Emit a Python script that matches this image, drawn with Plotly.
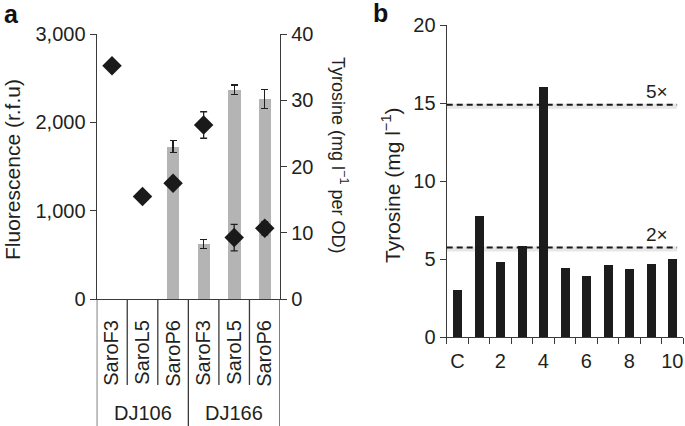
import plotly.graph_objects as go

# ---------------- data ----------------
# Panel a
strains = ["SaroF3", "SaroL5", "SaroP6", "SaroF3", "SaroL5", "SaroP6"]
groups = ["DJ106", "DJ166"]
group_centers = [1, 4]
fluorescence = [2640, 1160, 1310, 1970, 695, 800]
fluorescence_err = [0, 0, 0, 150, 150, 75]
tyrosine_od = [None, None, 23.0, 8.3, 31.6, 30.2]
tyrosine_od_err = [None, None, 0.9, 0.7, 0.7, 1.4]

# Panel b
clones = ["C", "1", "2", "3", "4", "5", "6", "7", "8", "9", "10"]
clone_ticktext = ["C", "", "2", "", "4", "", "6", "", "8", "", "10"]
tyrosine_b = [3.0, 7.8, 4.82, 5.85, 16.0, 4.46, 3.9, 4.61, 4.37, 4.67, 5.01]
fold_levels = [14.9, 5.75]
fold_labels = ["5×", "2×"]

# ---------------- style ----------------
W, H = 685, 426
FONT = "Liberation Sans, Arial, Helvetica, sans-serif"
TXT = "#231f20"
AX = "#3a3a3a"
FS = 20

def py(px):  # pixel row -> paper y
    return (H - px) / H

def px_(x):
    return x / W

a_dom_x = [px_(96.7), px_(280.0)]
a_dom_y = [py(299.0), py(34.0)]
b_dom_x = [px_(446.7), px_(683.0)]
b_dom_y = [py(337.3), py(25.0)]

fig = go.Figure()

# Panel a bars (tyrosine per OD, right axis)
fig.add_trace(go.Bar(
    x=list(range(len(strains))), y=tyrosine_od,
    error_y=dict(type="data", array=tyrosine_od_err, color=TXT, thickness=1.3, width=3.5),
    marker=dict(color="#b4b4b4", line=dict(width=0)),
    width=0.4, xaxis="x", yaxis="y", showlegend=False,
))
# Panel a diamonds (fluorescence, left axis)
fig.add_trace(go.Scatter(
    x=list(range(len(strains))), y=fluorescence, mode="markers",
    error_y=dict(type="data", array=fluorescence_err, color=TXT, thickness=1.3, width=3.5),
    marker=dict(symbol="diamond", size=15, color="#1a1a1a"),
    xaxis="x", yaxis="y2", showlegend=False,
))
# Panel b bars
fig.add_trace(go.Bar(
    x=clones, y=tyrosine_b,
    marker=dict(color="#1c1c1c", line=dict(width=0)),
    width=0.42, xaxis="x2", yaxis="y3", showlegend=False,
))

axis_common = dict(showgrid=False, zeroline=False, showline=True, linecolor=AX, linewidth=1.3,
                   tickfont=dict(family=FONT, size=FS, color=TXT), tickcolor=AX, ticklen=6, tickwidth=1.3,
                   automargin=False)

fig.update_layout(
    width=W, height=H,
    margin=dict(l=0, r=0, t=0, b=0),
    paper_bgcolor="white", plot_bgcolor="white",
    bargap=0,
    xaxis=dict(domain=a_dom_x, range=[-0.5, 5.5], anchor="y",
               tickmode="array", tickvals=list(range(len(strains))), ticktext=strains,
               tickangle=-90, ticks="", ticklabelstandoff=12,
               **{k: v for k, v in axis_common.items() if k not in ("ticklen",)}),
    yaxis=dict(domain=a_dom_y, range=[0, 40], side="right", anchor="x",
               tickmode="array", tickvals=[0, 10, 20, 30, 40], ticks="outside", **axis_common),
    yaxis2=dict(range=[0, 3000], side="left", overlaying="y", anchor="x",
                tickmode="array", tickvals=[0, 1000, 2000, 3000], tickformat=",", ticks="outside",
                **axis_common),
    xaxis2=dict(domain=b_dom_x, anchor="y3", type="category", categoryorder="array",
                categoryarray=clones, tickmode="array", tickvals=clones, ticktext=clone_ticktext,
                tickson="boundaries", ticks="outside", tickangle=0, ticklabelstandoff=6,
                range=[-0.5, 10.5], **axis_common),
    yaxis3=dict(domain=b_dom_y, anchor="x2", range=[0, 20], tickmode="array",
                tickvals=[0, 5, 10, 15, 20], ticks="outside", **axis_common),
)

shapes = []
# Panel a dividers between strains and groups
bounds = [i - 0.5 for i in range(len(strains) + 1)]
for i, b in enumerate(bounds):
    outer = (i % 3 == 0)
    shapes.append(dict(type="line", xref="x", yref="paper", x0=b, x1=b,
                       y0=0 if outer else py(385), y1=a_dom_y[0],
                       line=dict(color=AX, width=1.3)))
# Panel b fold-change dashed lines (soft shadow + dashes)
for lvl in fold_levels:
    shapes.append(dict(type="rect", xref="x2 domain", yref="y3", x0=0, x1=0.975,
                       ysizemode="pixel", yanchor=lvl, y0=-4, y1=1,
                       fillcolor="rgba(120,120,120,0.18)", line=dict(width=0), layer="below"))
    shapes.append(dict(type="line", xref="x2 domain", yref="y3", x0=0, x1=0.975, y0=lvl, y1=lvl,
                       line=dict(color="#1a1a1a", width=2, dash="6px,4px")))
# soft shadow beneath the panel b baseline
shapes.append(dict(type="rect", xref="x2 domain", yref="y3", x0=0, x1=1,
                   ysizemode="pixel", yanchor=0, y0=-6, y1=-1,
                   fillcolor="rgba(120,120,120,0.12)", line=dict(width=0), layer="below"))
fig.update_layout(shapes=shapes)

ann = []
for g, c in zip(groups, group_centers):
    ann.append(dict(text=g, x=c, xref="x", y=py(412.7), yref="paper", showarrow=False,
                    font=dict(family=FONT, size=FS, color=TXT), xanchor="center", yanchor="middle"))
for lvl, lab in zip(fold_levels, fold_labels):
    ann.append(dict(text=lab, x=0.89, xref="x2 domain", y=lvl, yref="y3", yshift=13,
                    showarrow=False, font=dict(family=FONT, size=FS - 1, color=TXT),
                    xanchor="center", yanchor="middle"))
# axis titles
ann.append(dict(text="Fluorescence (r.f.u)", x=px_(12), y=py(170), xref="paper", yref="paper",
                textangle=-90, showarrow=False, font=dict(family=FONT, size=21, color=TXT),
                xanchor="center", yanchor="middle"))
ann.append(dict(text="Tyrosine (mg l<sup>−1</sup> per OD)", x=px_(340), y=py(155), xref="paper",
                yref="paper", textangle=90, showarrow=False,
                font=dict(family=FONT, size=18, color=TXT), xanchor="center", yanchor="middle"))
ann.append(dict(text="Tyrosine (mg l<sup>−1</sup>)", x=px_(391), y=py(185), xref="paper",
                yref="paper", textangle=-90, showarrow=False,
                font=dict(family=FONT, size=21, color=TXT), xanchor="center", yanchor="middle"))
# panel letters
ann.append(dict(text="<b>a</b>", x=px_(2), y=py(14), xref="paper", yref="paper", showarrow=False,
                font=dict(family=FONT, size=25, color="#111"), xanchor="left", yanchor="middle"))
ann.append(dict(text="<b>b</b>", x=px_(371), y=py(13), xref="paper", yref="paper", showarrow=False,
                font=dict(family=FONT, size=25, color="#111"), xanchor="left", yanchor="middle"))
fig.update_layout(annotations=ann)

fig.write_html("out.html", config={"displayModeBar": False},
               post_script="document.body.style.margin='0';document.body.style.overflow='hidden';")
